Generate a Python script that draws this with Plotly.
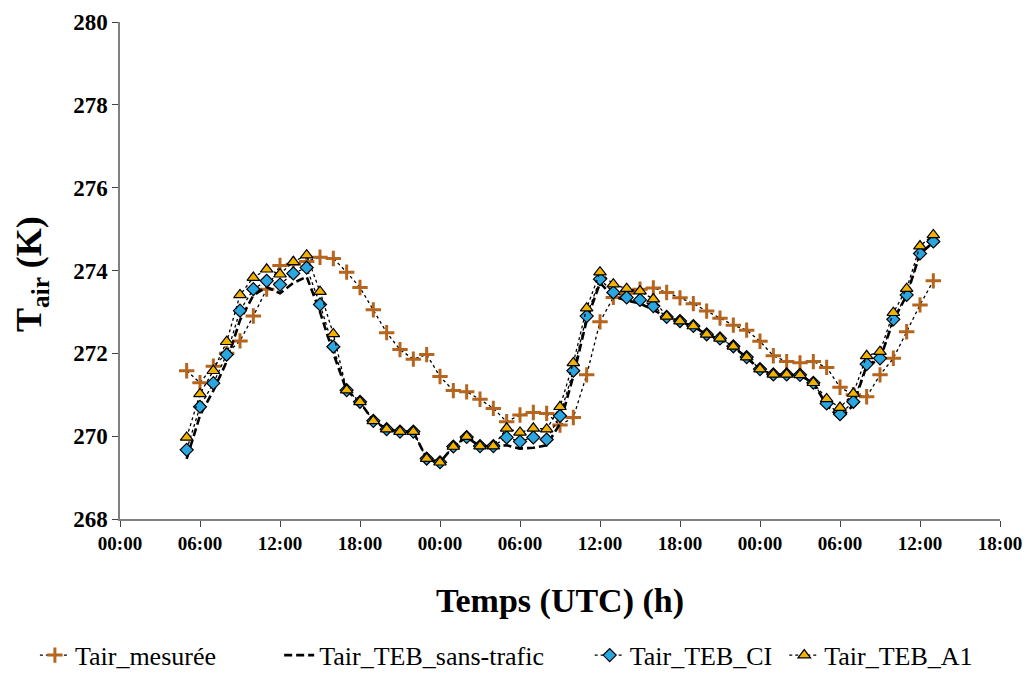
import plotly.graph_objects as go

hours = list(range(5, 62))

t_mesuree = [271.58, 271.29, 271.69, 272.00, 272.30, 272.90, 273.55, 274.12, 274.15, 274.22,
             274.32, 274.29, 273.96, 273.59, 273.05, 272.50, 272.09, 271.86, 271.97, 271.44,
             271.10, 271.07, 270.89, 270.67, 270.35, 270.51, 270.57, 270.55, 270.27, 270.45,
             271.48, 272.76, 273.35, 273.45, 273.55, 273.58, 273.47, 273.34, 273.20, 273.02,
             272.85, 272.68, 272.56, 272.29, 271.94, 271.80, 271.77, 271.80, 271.66, 271.18,
             271.00, 270.95, 271.48, 271.88, 272.52, 273.17, 273.75]

t_sans_trafic = [269.45, 270.50, 271.10, 271.80, 272.80, 273.40, 273.60, 273.45, 273.70, 273.85,
                 273.00, 272.00, 271.10, 270.82, 270.37, 270.17, 270.11, 270.11, 269.46, 269.37,
                 269.75, 269.98, 269.75, 269.76, 269.78, 269.70, 269.72, 269.78, 270.30, 271.45,
                 272.80, 273.70, 273.37, 273.28, 273.20, 273.05, 272.87, 272.77, 272.65, 272.45,
                 272.35, 272.15, 271.90, 271.60, 271.48, 271.48, 271.47, 271.28, 270.75, 270.42,
                 270.75, 271.70, 271.85, 272.80, 273.40, 274.40, 274.68]

t_ci = [269.67, 270.71, 271.28, 271.97, 273.03, 273.55, 273.75, 273.66, 273.93, 274.07,
        273.18, 272.16, 271.11, 270.83, 270.37, 270.17, 270.11, 270.11, 269.46, 269.37,
        269.75, 269.98, 269.76, 269.76, 269.97, 269.87, 269.97, 269.92, 270.49, 271.58,
        272.90, 273.79, 273.47, 273.35, 273.29, 273.14, 272.88, 272.78, 272.66, 272.46,
        272.36, 272.17, 271.91, 271.62, 271.49, 271.49, 271.48, 271.29, 270.79, 270.53,
        270.83, 271.74, 271.88, 272.82, 273.41, 274.41, 274.70]

t_a1 = [269.97, 271.02, 271.58, 272.28, 273.41, 273.83, 274.03, 273.91, 274.21, 274.37,
        273.49, 272.47, 271.11, 270.83, 270.37, 270.17, 270.11, 270.11, 269.46, 269.37,
        269.75, 269.99, 269.76, 269.76, 270.19, 270.09, 270.19, 270.17, 270.71, 271.77,
        273.09, 273.96, 273.67, 273.56, 273.50, 273.31, 272.89, 272.78, 272.66, 272.46,
        272.36, 272.17, 271.91, 271.62, 271.49, 271.49, 271.48, 271.29, 270.90, 270.69,
        271.03, 271.94, 272.04, 272.98, 273.56, 274.59, 274.86]

tick_hours = list(range(0, 67, 6))
tick_labels = ["00:00", "06:00", "12:00", "18:00", "00:00", "06:00",
               "12:00", "18:00", "00:00", "06:00", "12:00", "18:00"]

serif = "Liberation Serif"

fig = go.Figure()
fig.add_trace(go.Scatter(
    x=hours, y=t_mesuree, name="Tair_mesurée", mode="lines+markers", legend="legend",
    line=dict(color="black", width=1.3, dash="3px,3px"),
    marker=dict(symbol="cross-thin", size=11, line=dict(color="#B5651D", width=3), color="#B5651D"),
))
fig.add_trace(go.Scatter(
    x=hours, y=t_sans_trafic, name="Tair_TEB_sans-trafic", mode="lines", legend="legend2",
    line=dict(color="black", width=2.6, dash="8px,4px"),
))
fig.add_trace(go.Scatter(
    x=hours, y=t_ci, name="Tair_TEB_CI", mode="lines+markers", legend="legend3",
    line=dict(color="black", width=1.3, dash="3px,3px"),
    marker=dict(symbol="diamond", size=10, color="#2AA7E0", line=dict(color="black", width=1.2)),
))
fig.add_trace(go.Scatter(
    x=hours, y=t_a1, name="Tair_TEB_A1", mode="lines+markers", legend="legend4",
    line=dict(color="black", width=1.3, dash="3px,3px"),
    marker=dict(symbol="triangle-up", size=11, color="#F2B200", line=dict(color="black", width=1.2)),
))


def leg(xpos):
    return dict(orientation="h", xref="container", x=xpos, xanchor="left",
                y=-0.274, yanchor="middle", bgcolor="rgba(0,0,0,0)",
                font=dict(family=serif, size=26), itemwidth=30)


fig.update_layout(
    width=1035, height=677,
    margin=dict(l=112, r=43, t=14, b=166, autoexpand=False),
    paper_bgcolor="white", plot_bgcolor="white",
    font=dict(family=serif, color="black"),
    showlegend=True,
    legend=leg(0.026), legend2=leg(0.262), legend3=leg(0.562), legend4=leg(0.750),
    annotations=[dict(
        text="T<sub>air</sub> (K)", textangle=-90, xref="paper", yref="paper",
        x=-0.1, y=0.493, xanchor="center", yanchor="middle", showarrow=False,
        font=dict(family=serif, size=36, weight="bold"),
    )],
)
fig.update_xaxes(
    range=[0, 66], tickvals=tick_hours, ticktext=tick_labels, automargin=False,
    showline=True, linecolor="#808080", linewidth=1.5,
    ticks="outside", ticklen=6, tickcolor="#404040", tickwidth=1,
    showgrid=False, zeroline=False,
    tickfont=dict(family=serif, size=19, weight="bold"),
    title=dict(text="Temps (UTC) (h)", font=dict(family=serif, size=34, weight="bold"), standoff=36),
)
fig.update_yaxes(
    range=[268, 280], dtick=2, automargin=False,
    showline=True, linecolor="#808080", linewidth=1.5,
    ticks="outside", ticklen=6, tickcolor="#404040", tickwidth=1,
    showgrid=False, zeroline=False,
    tickfont=dict(family=serif, size=23, weight="bold"),
)

fig.write_html("out.html")
